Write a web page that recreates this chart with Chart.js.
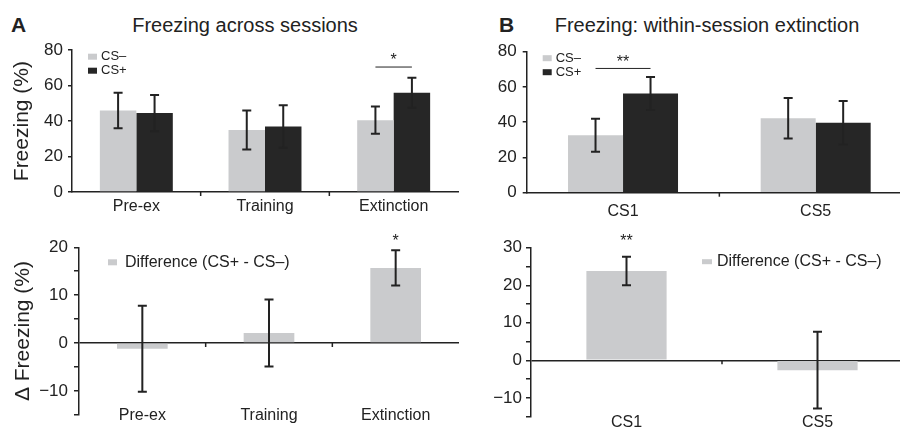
<!DOCTYPE html>
<html>
<head>
<meta charset="utf-8">
<script src="https://cdn.jsdelivr.net/npm/chart.js@4.4.0/dist/chart.umd.min.js"></script>
<style>
  body { margin: 0; width: 900px; height: 431px; overflow: hidden; background: #fff; position: relative;
         font-family: "Liberation Sans", Arial, sans-serif; color: #222; }
  canvas { position: absolute; }
  .lbl { position: absolute; font-size: 20px; line-height: 20px; white-space: nowrap; }
  .panel { font-weight: bold; font-size: 21px; }
</style>
</head>
<body>
<div class="lbl panel" style="left:11px;top:15px">A</div>
<div class="lbl" style="left:245px;top:15px;transform:translateX(-50%)">Freezing across sessions</div>
<div class="lbl panel" style="left:499px;top:15px">B</div>
<div class="lbl" style="left:707px;top:15px;transform:translateX(-50%)">Freezing: within-session extinction</div>

<canvas id="aTop" width="460" height="185" style="left:0;top:35px"></canvas>
<canvas id="aBottom" width="460" height="206" style="left:0;top:225px"></canvas>
<canvas id="bTop" width="455" height="185" style="left:460px;top:35px"></canvas>
<canvas id="bBottom" width="455" height="206" style="left:460px;top:225px"></canvas>

<script>
// Panel A: sessions
const sessions = ["Pre-ex", "Training", "Extinction"];
const sessCsMinus = [46, 35, 40.5];
const sessCsMinusErr = [10, 11, 7.7];
const sessCsPlus = [44.5, 37, 56];
const sessCsPlusErr = [10.2, 12, 8.5];
const sessDiff = [-1.2, 2.1, 15.7];
const sessDiffErr = [9, 7, 3.7];
const sessSig = ["", "", "*"];
const sessDiffSig = ["", "", "*"];

// Panel B: within-session trials
const trials = ["CS1", "CS5"];
const trialCsMinus = [32.6, 42.3];
const trialCsMinusErr = [9.4, 11.5];
const trialCsPlus = [56.3, 39.7];
const trialCsPlusErr = [9.4, 12.3];
const trialDiff = [23.8, -2.6];
const trialDiffErr = [3.8, 10.2];
const trialSig = ["**", ""];
const trialDiffSig = ["**", ""];

const sigLineValue = 70.5;

const GRAY = "#cacbcd";
const BLACK = "#262626";
const AX = "#222";
const FAMILY = '"Liberation Sans", Arial, sans-serif';

// error bars drawn from each dataset's "errors" array
const errorBars = {
  id: "errorBars",
  afterDatasetsDraw(chart, args, opts) {
    const ctx = chart.ctx, y = chart.scales.y;
    chart.data.datasets.forEach((ds, di) => {
      chart.getDatasetMeta(di).data.forEach((bar, i) => {
        const top = y.getPixelForValue(ds.data[i] + ds.errors[i]);
        const bot = y.getPixelForValue(ds.data[i] - ds.errors[i]);
        ctx.save();
        ctx.strokeStyle = AX;
        ctx.lineWidth = 2;
        ctx.beginPath();
        ctx.moveTo(bar.x, top); ctx.lineTo(bar.x, bot);
        ctx.moveTo(bar.x - opts.cap, top); ctx.lineTo(bar.x + opts.cap, top);
        ctx.moveTo(bar.x - opts.cap, bot); ctx.lineTo(bar.x + opts.cap, bot);
        ctx.stroke();
        ctx.restore();
      });
    });
  }
};

// small ticks between categories, on the zero line
const catTicks = {
  id: "catTicks",
  afterDraw(chart) {
    const ctx = chart.ctx, x = chart.scales.x, y0 = chart.scales.y.getPixelForValue(0);
    ctx.save();
    ctx.strokeStyle = AX;
    ctx.lineWidth = 1.5;
    for (let i = 0; i < chart.data.labels.length - 1; i++) {
      const bx = (x.getPixelForValue(i) + x.getPixelForValue(i + 1)) / 2;
      ctx.beginPath(); ctx.moveTo(bx, y0); ctx.lineTo(bx, y0 + 4); ctx.stroke();
    }
    ctx.restore();
  }
};

// significance marks
const sigMarks = {
  id: "sigMarks",
  afterDraw(chart, args, opts) {
    const ctx = chart.ctx;
    ctx.save();
    ctx.fillStyle = AX; ctx.strokeStyle = AX;
    ctx.font = "16px " + FAMILY;
    ctx.textAlign = "center"; ctx.textBaseline = "middle";
    opts.marks.forEach((m, i) => {
      if (!m) return;
      const m0 = chart.getDatasetMeta(0).data[i];
      if (chart.data.datasets.length > 1) {
        const m1 = chart.getDatasetMeta(1).data[i];
        const ly = chart.scales.y.getPixelForValue(opts.line);
        ctx.lineWidth = 1;
        ctx.beginPath(); ctx.moveTo(m0.x, ly); ctx.lineTo(m1.x, ly); ctx.stroke();
        ctx.fillText(m, (m0.x + m1.x) / 2, ly - 6);
      } else {
        ctx.fillText(m, m0.x, chart.chartArea.top - 6);
      }
    });
    ctx.restore();
  }
};

// legend drawn inside the plot area
const innerLegend = {
  id: "innerLegend",
  afterDraw(chart, args, opts) {
    const ctx = chart.ctx, area = chart.chartArea;
    ctx.save();
    ctx.font = opts.font;
    ctx.textBaseline = "middle";
    chart.data.datasets.forEach((ds, i) => {
      const cy = area.top + opts.y + i * opts.row;
      ctx.fillStyle = ds.backgroundColor;
      ctx.fillRect(area.left + opts.x, cy - opts.bh / 2, opts.bw, opts.bh);
      ctx.fillStyle = AX;
      ctx.fillText(ds.label, area.left + opts.x + opts.bw + opts.gap, cy);
    });
    ctx.restore();
  }
};

function fmt(v) { return v < 0 ? "\u2212" + Math.abs(v) : String(v); }

function makeChart(id, cfg) {
  const bottomStyle = !!cfg.diff;
  return new Chart(document.getElementById(id), {
    type: "bar",
    data: { labels: cfg.labels, datasets: cfg.datasets },
    options: {
      responsive: false,
      animation: false,
      layout: { padding: { top: cfg.padTop, right: cfg.padRight, left: 0, bottom: 0 } },
      datasets: { bar: { categoryPercentage: cfg.catPct, barPercentage: 1 } },
      plugins: {
        legend: { display: false },
        tooltip: { enabled: false },
        errorBars: { cap: 4.5 },
        sigMarks: { marks: cfg.sig, line: sigLineValue },
        innerLegend: cfg.legend
      },
      scales: {
        x: {
          grid: { display: false, drawTicks: false },
          border: { display: !bottomStyle, color: AX, width: 1.5 },
          ticks: {
            color: AX, font: { family: FAMILY, size: 16 },
            padding: cfg.xPad, mirror: bottomStyle,
            autoSkip: false, maxRotation: 0
          },
          afterFit: s => { s.height = cfg.xHeight; }
        },
        y: {
          min: cfg.min, max: cfg.max,
          border: { color: AX, width: 1.5 },
          grid: {
            drawOnChartArea: bottomStyle,
            tickLength: cfg.tickLen,
            lineWidth: 1.5,
            tickColor: AX,
            color: c => (c.tick && c.tick.value === 0) ? AX : "rgba(0,0,0,0)"
          },
          ticks: {
            stepSize: cfg.step,
            autoSkip: false,
            color: AX,
            padding: cfg.yPad,
            font: { family: FAMILY, size: 17 },
            callback: v => (v % cfg.labelEvery === 0 ? fmt(v) : "")
          },
          title: {
            display: !!cfg.yTitle,
            text: cfg.yTitle,
            color: AX,
            font: { family: FAMILY, size: 21 },
            padding: { top: cfg.titlePad, bottom: 0 }
          },
          afterFit: s => { s.width = cfg.yWidth; }
        }
      }
    },
    plugins: [errorBars, catTicks, sigMarks, innerLegend]
  });
}

const csLegend = { x: 16, y: 6.5, row: 14, bw: 9, bh: 6, gap: 4, font: "small-caps 13px " + FAMILY };

makeChart("aTop", {
  labels: sessions,
  datasets: [
    { label: "CS\u2013", data: sessCsMinus, errors: sessCsMinusErr, backgroundColor: GRAY },
    { label: "CS+", data: sessCsPlus, errors: sessCsPlusErr, backgroundColor: BLACK }
  ],
  padTop: 14, padRight: 2, catPct: 0.567,
  xPad: 4.5, xHeight: 28,
  min: 0, max: 80, step: 20, labelEvery: 20,
  tickLen: 4, yPad: 5, yWidth: 72,
  yTitle: "Freezing (%)", titlePad: 10,
  sig: sessSig, legend: csLegend
});

makeChart("aBottom", {
  labels: sessions,
  datasets: [
    { label: "Difference (CS+ - CS\u2013)", data: sessDiff, errors: sessDiffErr, backgroundColor: GRAY }
  ],
  diff: true,
  padTop: 22.3, padRight: 1, catPct: 0.4,
  xPad: -10.6, xHeight: 13.7,
  min: -15, max: 20, step: 5, labelEvery: 10,
  tickLen: 5, yPad: 6, yWidth: 79,
  yTitle: "\u0394 Freezing (%)", titlePad: 11,
  sig: sessDiffSig,
  legend: { x: 29, y: 15, row: 0, bw: 9, bh: 6, gap: 8, font: "16px " + FAMILY }
});

makeChart("bTop", {
  labels: trials,
  datasets: [
    { label: "CS\u2013", data: trialCsMinus, errors: trialCsMinusErr, backgroundColor: GRAY },
    { label: "CS+", data: trialCsPlus, errors: trialCsPlusErr, backgroundColor: BLACK }
  ],
  padTop: 16.7, padRight: 3, catPct: 0.571,
  xPad: 9, xHeight: 27.3,
  min: 0, max: 80, step: 20, labelEvery: 20,
  tickLen: 4, yPad: 6, yWidth: 66.7,
  yTitle: "", titlePad: 0,
  sig: trialSig, legend: csLegend
});

makeChart("bBottom", {
  labels: trials,
  datasets: [
    { label: "Difference (CS+ - CS\u2013)", data: trialDiff, errors: trialDiffErr, backgroundColor: GRAY }
  ],
  diff: true,
  padTop: 22.7, padRight: 2, catPct: 0.42,
  xPad: -15.4, xHeight: 14.3,
  min: -15, max: 30, step: 5, labelEvery: 10,
  tickLen: 5, yPad: 4, yWidth: 71,
  yTitle: "", titlePad: 0,
  sig: trialDiffSig,
  legend: { x: 171, y: 14, row: 0, bw: 10, bh: 5, gap: 5, font: "16px " + FAMILY }
});
</script>
</body>
</html>
